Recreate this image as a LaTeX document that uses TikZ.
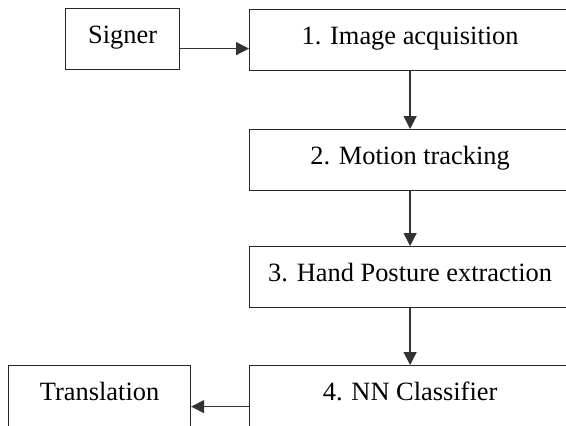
\documentclass[tikz,border=0pt]{standalone}
\usepackage{fontspec}
\setmainfont{Liberation Serif}
\usepackage{tikz}
\usetikzlibrary{positioning,arrows.meta}

\begin{document}
\begin{tikzpicture}[x=0.5pt,y=-0.5pt,>={Triangle[length=6.5pt,width=6.5pt]},
  stage/.style={draw=black!85,line width=0.6pt,anchor=north west,inner xsep=0pt,inner ysep=0pt,
    text height=17.5pt,text depth=13pt,font=\fontsize{13.2}{15}\selectfont},
  flow/.style={->,draw=black!80,line width=0.7pt}]
\clip (0,0) rectangle (566,425);
\node[stage,minimum width=57pt] (signer) at (65,8) {Signer};
\node[stage,minimum width=160.5pt] (acq) at (249,9) {1. Image acquisition};
\node[stage,minimum width=160.5pt] (track) at (249,129) {2. Motion tracking};
\node[stage,minimum width=160.5pt] (hand) at (249,246) {3. Hand Posture extraction};
\node[stage,minimum width=160.5pt] (nn) at (249,365) {4. NN Classifier};
\node[stage,minimum width=91pt] (trans) at (8,365) {Translation};
\draw[flow] ([yshift=-4.75pt]signer.east) -- ([yshift=-4.75pt]signer.east -| acq.west);
\draw[flow] (acq) -- (track);
\draw[flow] (track) -- (hand);
\draw[flow] (hand) -- (nn);
\draw[flow] ([yshift=-5.25pt]nn.west) -- ([yshift=-5.25pt]nn.west -| trans.east);
\end{tikzpicture}
\end{document}
